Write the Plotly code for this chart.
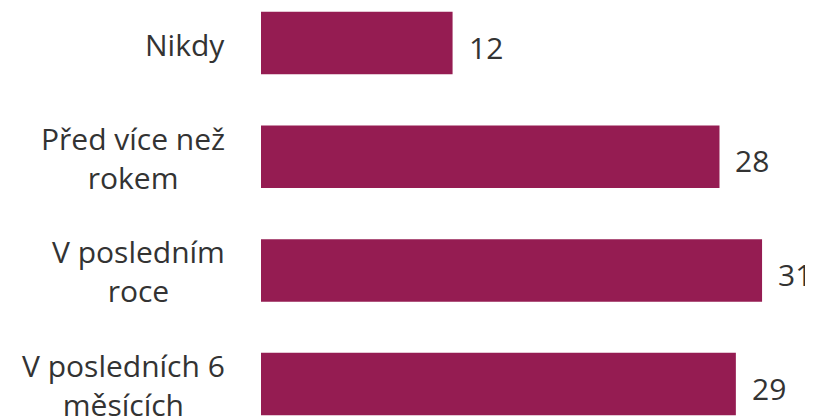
import plotly.graph_objects as go

# Dados
categorias = ["Nikdy", "Před více než<br>rokem", "V posledním<br>roce", "V posledních 6<br>měsících"]
valores = [11.7, 28.0, 30.6, 29.0]
rotulos = ["12", "28", "31", "29"]

cor_barra = "#951c52"
cor_texto = "#333333"
fonte = "Open Sans, Noto Sans, sans-serif"

fig = go.Figure()

fig.add_trace(go.Bar(
    x=valores,
    y=categorias,
    orientation="h",
    marker=dict(color=cor_barra, line=dict(width=0)),
    hoverinfo="skip",
))

# Rótulos das categorias (centralizados, como no original)
for cat in categorias:
    fig.add_annotation(
        x=0, xref="paper", y=cat, yref="y",
        text=cat, showarrow=False,
        xanchor="right", yanchor="middle", align="center",
        xshift=-34, yshift=-1,
        font=dict(family=fonte, size=30, color=cor_texto),
    )

# Valores ao lado das barras
for cat, v, r in zip(categorias, valores, rotulos):
    fig.add_annotation(
        x=v, y=cat, text=r, showarrow=False,
        xanchor="left", yanchor="middle", xshift=14, yshift=-4,
        font=dict(family=fonte, size=30, color=cor_texto),
    )

fig.update_xaxes(visible=False, range=[0, 33.1])
fig.update_yaxes(showticklabels=False, showgrid=False, zeroline=False,
                 categoryorder="array", categoryarray=categorias,
                 range=[3.307, -0.308])
fig.update_layout(
    width=805, height=411,
    margin=dict(l=253, r=10, t=0, b=0),
    bargap=0.45,
    showlegend=False,
    paper_bgcolor="white",
    plot_bgcolor="white",
)

fig.write_html("out.html")
